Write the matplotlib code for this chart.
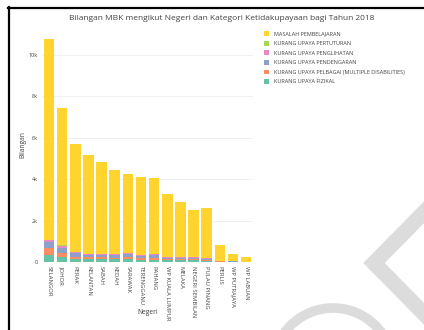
import matplotlib.pyplot as plt
from matplotlib.patches import Arc

states = ["SELANGOR", "JOHOR", "PERAK", "KELANTAN", "SABAH", "KEDAH", "SARAWAK",
          "TERENGGANU", "PAHANG", "WP KUALA LUMPUR", "MELAKA", "NEGERI SEMBILAN",
          "PULAU PINANG", "PERLIS", "WP PUTRAJAYA", "WP LABUAN"]

# counts per category, bottom of the stack first
fizikal = [320, 240, 150, 130, 130, 130, 150, 110, 120, 80, 80, 80, 70, 20, 10, 5]
pelbagai = [340, 190, 110, 90, 90, 80, 90, 70, 80, 50, 50, 50, 40, 10, 8, 4]
pendengaran = [320, 270, 160, 120, 120, 130, 140, 110, 120, 70, 60, 60, 60, 15, 8, 4]
penglihatan = [60, 90, 70, 50, 60, 50, 60, 40, 50, 30, 30, 30, 25, 5, 3, 2]
pertuturan = [20, 15, 15, 10, 10, 10, 10, 10, 10, 10, 10, 10, 5, 2, 1, 1]
pembelajaran = [9720, 6645, 5195, 4770, 4410, 4060, 3790, 3770, 3680, 3040,
                2650, 2300, 2420, 770, 360, 214]

series = [
    ("KURANG UPAYA FIZIKAL", fizikal, "#66c2a5"),
    ("KURANG UPAYA PELBAGAI (MULTIPLE DISABILITIES)", pelbagai, "#fc8d62"),
    ("KURANG UPAYA PENDENGARAN", pendengaran, "#8da0cb"),
    ("KURANG UPAYA PENGLIHATAN", penglihatan, "#e78ac3"),
    ("KURANG UPAYA PERTUTURAN", pertuturan, "#a6d854"),
    ("MASALAH PEMBELAJARAN", pembelajaran, "#ffd42f"),
]

plt.rcParams["font.family"] = ["Open Sans", "DejaVu Sans"]
txt = "#444444"

fig = plt.figure(figsize=(4.24, 3.3), dpi=100)

# background layer in pixel coordinates: frame and grey marks
bg = fig.add_axes([0, 0, 1, 1], zorder=0)
bg.set_xlim(0, 424)
bg.set_ylim(330, 0)
bg.axis("off")
bg.plot([9, 9], [7, 330], color="black", lw=1.6)
bg.plot([8, 424], [8, 8], color="black", lw=1.6)
bg.plot([440, 374, 440], [196, 263, 330], color="#dcdcdc", lw=11, solid_joinstyle="miter")
bg.add_patch(Arc((333, 368), 120, 120, theta1=180, theta2=360, color="#dcdcdc", lw=7))

ax = fig.add_axes([0.100, 0.206, 0.496, 0.712], zorder=1)
x = list(range(len(states)))
bottom = [0] * len(states)
handles = []
for name, vals, col in series:
    b = ax.bar(x, vals, 0.8, bottom=bottom, color=col, label=name, zorder=2)
    handles.append(b)
    bottom = [p + v for p, v in zip(bottom, vals)]

ax.set_xlim(-0.5, len(states) - 0.5)
ax.set_ylim(0, 11350)
ax.set_yticks([0, 2000, 4000, 6000, 8000, 10000])
ax.set_yticklabels(["0", "2k", "4k", "6k", "8k", "10k"])
ax.set_xticks(x)
ax.set_xticklabels(states, rotation=-90)
ax.tick_params(axis="both", length=0, labelsize=4, colors=txt, pad=3)
ax.tick_params(axis="x", labelsize=4.2, pad=3)
ax.grid(axis="y", color="#eeeeee", lw=0.6, zorder=0)
for s in ax.spines.values():
    s.set_visible(False)
ax.set_ylabel("Bilangan", fontsize=4.8, color=txt, labelpad=2)
ax.set_xlabel("Negeri", fontsize=4.8, color=txt)
ax.xaxis.set_label_coords(0.5, -0.2)

fig.text(0.522, 0.943, "Bilangan MBK mengikut Negeri dan Kategori Ketidakupayaan bagi Tahun 2018",
         ha="center", va="center", fontsize=6, color=txt)

leg = fig.legend(handles[::-1], [s[0] for s in series][::-1], loc="upper left",
                 bbox_to_anchor=(0.622, 0.905), frameon=False, fontsize=4,
                 handlelength=0.9, handleheight=0.9, handletextpad=1.0,
                 labelspacing=0.78, borderaxespad=0, borderpad=0)
for t in leg.get_texts():
    t.set_color(txt)

fig.savefig("out.png", dpi=100, facecolor="white")
